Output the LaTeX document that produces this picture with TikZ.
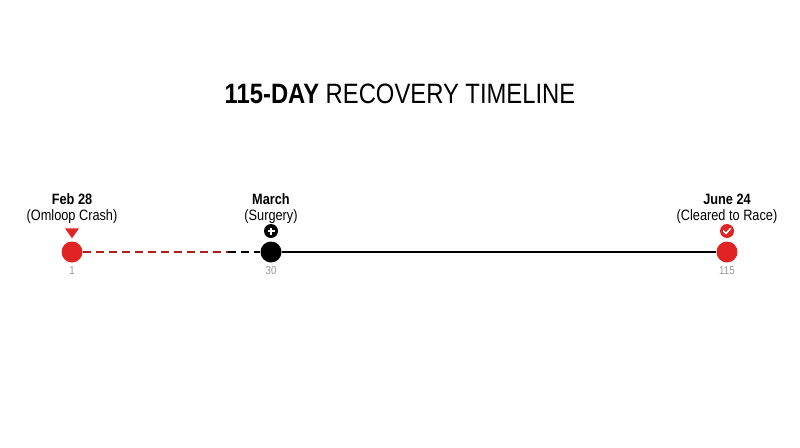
\documentclass[tikz,border=0pt]{standalone}
\usepackage{fontspec}
\usetikzlibrary{shapes.geometric}
\setmainfont{Liberation Sans}[FakeStretch=0.85]
\definecolor{rred}{HTML}{E02424}
\definecolor{dred}{HTML}{B01E1E}
\begin{document}
\begin{tikzpicture}[x=1pt,y=-1pt,
  dot/.style={circle,minimum size=21pt,inner sep=0pt},
  lbl/.style={align=center,font=\fontsize{15}{16}\selectfont,inner sep=0pt},
  num/.style={text=gray!80,font=\fontsize{11.5}{12}\selectfont,inner sep=0pt},
  icon/.style={circle,minimum size=14pt,inner sep=0pt}]
\useasboundingbox (0,0) rectangle (800,447);
\node[font=\fontsize{28}{30}\selectfont,inner sep=0pt] (title) at (400,94) {\textbf{115-DAY} RECOVERY TIMELINE};
\node[dot,fill=rred] (a) at (72,252) {};
\node[dot,fill=black] (b) at (271,252) {};
\node[dot,fill=rred] (c) at (727,252) {};
\coordinate (m) at (228,252);
\draw[dred,line width=2.6pt,dash pattern=on 8pt off 5pt] (a) -- (m);
\draw[black,line width=2.6pt,dash pattern=on 8pt off 5pt] (m) -- (b);
\draw[black,line width=2.6pt] (b) -- (c);
\node[lbl] (la) at (72,209) {\textbf{Feb 28}\\(Omloop Crash)};
\node[lbl] (lb) at (271,209) {\textbf{March}\\(Surgery)};
\node[lbl] (lc) at (727,209) {\textbf{June 24}\\(Cleared to Race)};
\node[fill=rred,draw=none,isosceles triangle,shape border rotate=-90,isosceles triangle apex angle=70,minimum width=11pt,minimum height=10pt,inner sep=0pt] (ta) at (72,232) {};
\node[icon,fill=black] (ib) at (271,231) {};
\draw[white,line width=1.6pt] ([xshift=-3.5pt]ib.center) -- ([xshift=3.5pt]ib.center) ([yshift=-3.5pt]ib.center) -- ([yshift=3.5pt]ib.center);
\node[icon,fill=rred] (ic) at (727,231) {};
\draw[white,line width=1.6pt,line cap=round,line join=round] ([shift={(-3.5pt,0pt)}]ic.center) -- ([shift={(-1pt,-2.5pt)}]ic.center) -- ([shift={(3.5pt,2.5pt)}]ic.center);
\node[num] (na) at (72,271) {1};
\node[num] (nb) at (271,271) {30};
\node[num] (nc) at (727,271) {115};
\end{tikzpicture}
\end{document}
